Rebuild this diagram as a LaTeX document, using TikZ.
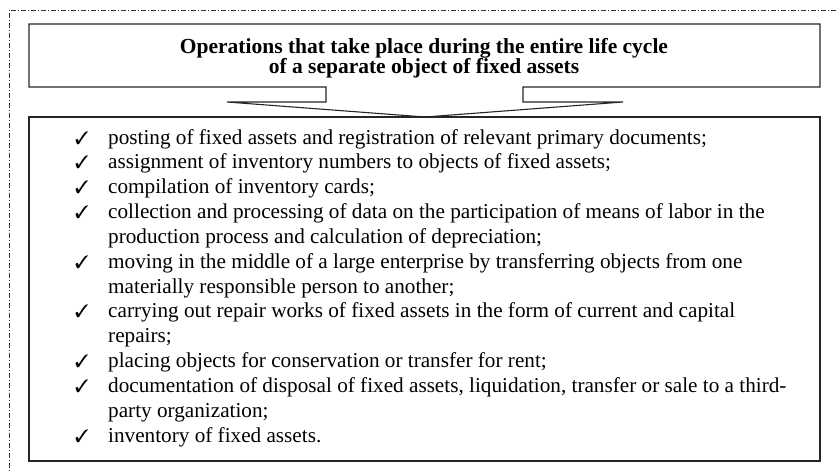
\documentclass[tikz,border=0pt]{standalone}
\usepackage{fontspec}
\setmainfont{Liberation Serif}
\usepackage{pifont}

\begin{document}
\begin{tikzpicture}[x=1pt,y=-1pt,
  box/.style={line width=1.1pt, draw=black!85},
  item/.style={anchor=base west, inner sep=0pt, font=\fontsize{21.2}{21}\selectfont},
  tick/.style={anchor=base, inner sep=0pt, font=\fontsize{18}{18}\selectfont}]
\useasboundingbox (0,0) rectangle (836,472);
% frame round the whole scheme
\draw[black!80, line width=0.8pt, dash pattern=on 5pt off 2pt on 1pt off 2pt] (836,10) -- (9,10) -- (9,472);

% heading with its pointer
\coordinate (tip) at (425,117);
\draw[box] (29,24) -- (820,24) -- (820,87) -- (523,87) -- (523,102) -- (623,102)
  -- (tip) -- (227,102) -- (326,102) -- (326,87) -- (29,87) -- cycle;
\node[align=center, font=\bfseries\fontsize{21.5}{20.5}\selectfont] (head) at (424,58)
  {Operations that take place during the entire life cycle\\of a separate object of fixed assets};

% list of operations
\draw[box] (29,117) rectangle (820,461);
\node[tick] (t1) at (82,144) {\ding{51}};
\node[tick] (t2) at (82,168.8) {\ding{51}};
\node[tick] (t3) at (82,193.7) {\ding{51}};
\node[tick] (t4) at (82,218.5) {\ding{51}};
\node[tick] (t6) at (82,268.2) {\ding{51}};
\node[tick] (t8) at (82,317.8) {\ding{51}};
\node[tick] (t10) at (82,367.5) {\ding{51}};
\node[tick] (t11) at (82,392.3) {\ding{51}};
\node[tick] (t13) at (82,442) {\ding{51}};

\node[item] (l1) at (108,144) {posting of fixed assets and registration of relevant primary documents;};
\node[item] (l2) at (108,168.8) {assignment of inventory numbers to objects of fixed assets;};
\node[item] (l3) at (108,193.7) {compilation of inventory cards;};
\node[item] (l4) at (108,218.5) {collection and processing of data on the participation of means of labor in the};
\node[item] (l5) at (108,243.3) {production process and calculation of depreciation;};
\node[item] (l6) at (108,268.2) {moving in the middle of a large enterprise by transferring objects from one};
\node[item] (l7) at (108,293) {materially responsible person to another;};
\node[item] (l8) at (108,317.8) {carrying out repair works of fixed assets in the form of current and capital};
\node[item] (l9) at (108,342.6) {repairs;};
\node[item] (l10) at (108,367.5) {placing objects for conservation or transfer for rent;};
\node[item] (l11) at (108,392.3) {documentation of disposal of fixed assets, liquidation, transfer or sale to a third-};
\node[item] (l12) at (108,417.2) {party organization;};
\node[item] (l13) at (108,442) {inventory of fixed assets.};
\end{tikzpicture}
\end{document}
